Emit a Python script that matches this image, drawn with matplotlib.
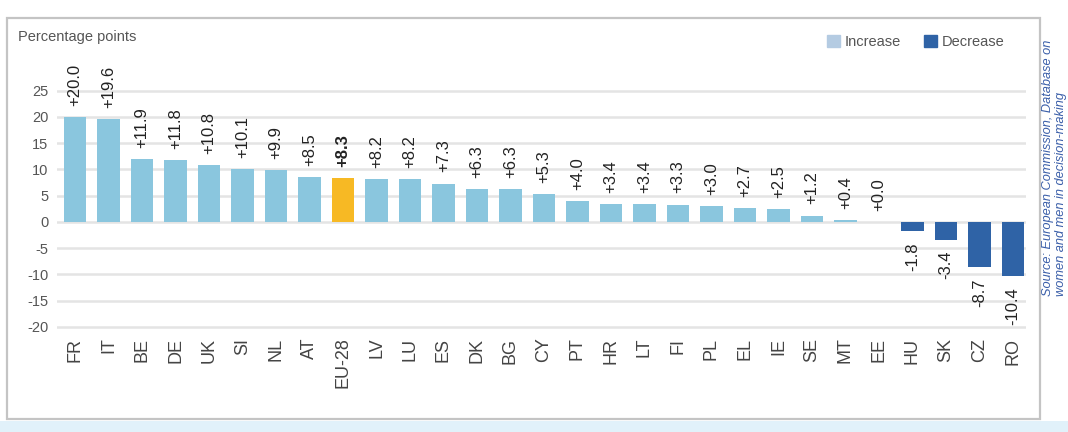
import matplotlib
matplotlib.use('Agg')
import matplotlib.pyplot as plt
from matplotlib.patches import Patch, Rectangle

plt.rcParams['font.family'] = ['Liberation Sans Narrow', 'Liberation Sans', 'DejaVu Sans']

countries = ['FR', 'IT', 'BE', 'DE', 'UK', 'SI', 'NL', 'AT', 'EU-28', 'LV', 'LU', 'ES',
             'DK', 'BG', 'CY', 'PT', 'HR', 'LT', 'FI', 'PL', 'EL', 'IE', 'SE', 'MT',
             'EE', 'HU', 'SK', 'CZ', 'RO']
change = [20.0, 19.6, 11.9, 11.8, 10.8, 10.1, 9.9, 8.5, 8.3, 8.2, 8.2, 7.3,
          6.3, 6.3, 5.3, 4.0, 3.4, 3.4, 3.3, 3.0, 2.7, 2.5, 1.2, 0.4,
          0.0, -1.8, -3.4, -8.7, -10.4]
y_ticks = [-20, -15, -10, -5, 0, 5, 10, 15, 20, 25]

c_inc = '#8ac6de'
c_dec = '#2f63a6'
c_eu = '#f7b924'
c_leg_inc = '#b4cbe2'

fig = plt.figure(figsize=(10.68, 4.32), dpi=100)

# frame + bottom strip
fig.patches.append(Rectangle((7 / 1068, 1 - 419 / 432), 1033 / 1068, 401 / 432,
                             transform=fig.transFigure, fill=False,
                             edgecolor='#c4c4c4', linewidth=1.6))
fig.patches.append(Rectangle((0, 0), 1, 11 / 432, transform=fig.transFigure,
                             facecolor='#e1f1fa', edgecolor='none'))

ax = fig.add_axes([0.053, 0.2315, 0.908, 0.692])

colors = []
for c, v in zip(countries, change):
    if c == 'EU-28':
        colors.append(c_eu)
    elif v < 0:
        colors.append(c_dec)
    else:
        colors.append(c_inc)

x = list(range(len(countries)))
ax.bar(x, change, width=0.68, color=colors, zorder=3)

for i, v in enumerate(change):
    txt = ('+%.1f' % v) if v >= 0 else ('%.1f' % v)
    bold = countries[i] == 'EU-28'
    ax.annotate(txt, (i, v), xytext=(0, 8 if v >= 0 else -8), textcoords='offset points',
                rotation=90, ha='center', va='bottom' if v >= 0 else 'top',
                fontsize=12, color='#222222', fontweight='bold' if bold else 'normal')

for t in y_ticks:
    ax.axhline(t, color='#e4e4e4', linewidth=1.8, zorder=1)

ax.set_xlim(-0.55, 28.4)
ax.set_ylim(-21, 36)
ax.set_yticks(y_ticks)
ax.set_yticklabels([str(t) for t in y_ticks], fontsize=10.5, color='#555555')
ax.set_xticks(x)
ax.set_xticklabels(countries, rotation=90, fontsize=13, color='#444444')
ax.tick_params(length=0, axis='x', pad=4)
ax.tick_params(length=0, axis='y', pad=6)
for s in ax.spines.values():
    s.set_visible(False)

fig.text(18 / 1068, 1 - 37 / 432, 'Percentage points', fontsize=10.5, color='#555555',
         va='center', ha='left')

handles = [Patch(color=c_leg_inc, label='Increase'), Patch(color=c_dec, label='Decrease')]
fig.legend(handles=handles, loc='upper right', ncol=2, frameon=False,
           bbox_to_anchor=(1010 / 1068, 1 - 29 / 432), fontsize=10.5,
           handlelength=0.9, handleheight=0.9, handletextpad=0.3, columnspacing=1.6,
           labelcolor='#555555', borderaxespad=0)

# source note, vertical on the right
fig.text(1048 / 1068, 1 - 296 / 432, 'Source: European Commission, Database on',
         rotation=90, fontsize=9.2, color='#3b5fa9', style='italic', ha='center', va='bottom')
fig.text(1061 / 1068, 1 - 296 / 432, 'women and men in decision-making',
         rotation=90, fontsize=9.2, color='#3b5fa9', style='italic', ha='center', va='bottom')

fig.savefig('out.png', dpi=100)
